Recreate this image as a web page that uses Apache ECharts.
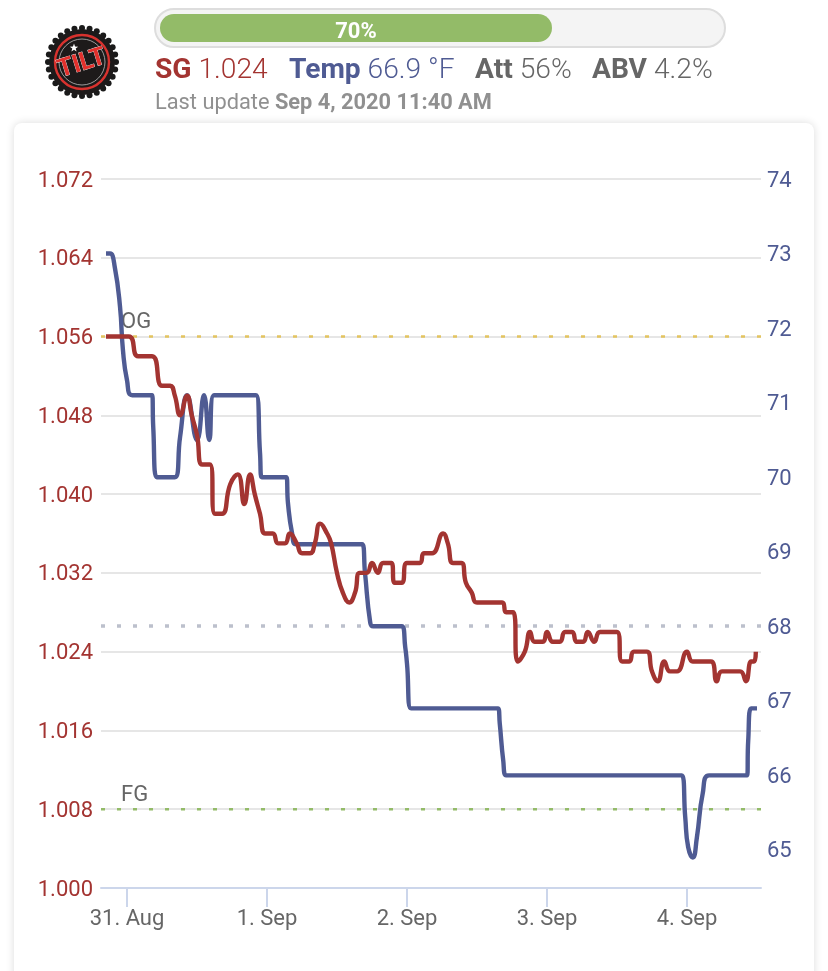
<!DOCTYPE html>
<html>
<head>
<meta charset="utf-8">
<script src="https://cdn.jsdelivr.net/npm/echarts@6/dist/echarts.min.js"></script>
<style>
html, body { margin: 0; padding: 0; background: #fff; font-family: Roboto, sans-serif; }
#page { position: relative; width: 828px; height: 971px; overflow: hidden; }
.bar { position: absolute; left: 154px; top: 8px; width: 568px; height: 36px; border: 2px solid #ddd; border-radius: 20px; background: #f4f4f4; }
.fill { position: absolute; left: 160px; top: 14px; width: 392px; height: 28px; border-radius: 14px; background: #93bb68; color: #fff; font-weight: bold; font-size: 22px; line-height: 33px; text-align: center; }
.stats { position: absolute; left: 155px; top: 53px; font-size: 28.2px; line-height: 32px; white-space: nowrap; font-weight: 300; }
.stats span { position: absolute; top: 0; }
.stats b { font-weight: 700; }
.sg { color: #a33431; }
.temp { color: #4f5b93; }
.other { color: #666; }
.update { position: absolute; left: 155px; top: 90px; font-size: 21.8px; line-height: 24px; color: #909090; white-space: nowrap; }
.card { position: absolute; left: 14px; top: 123px; width: 800px; height: 870px; background: #fff; border-radius: 8px; box-shadow: 0 0 8px rgba(0,0,0,0.14); }
#chart { position: absolute; left: 0; top: 0; width: 828px; height: 971px; }
</style>
</head>
<body>
<div id="page">
	<div class="card"></div>
	<div id="chart"></div>
	<div class="bar"></div>
	<div class="fill">70%</div>
	<div class="stats">
		<span class="sg" style="left:0"><b>SG</b> 1.024</span>
		<span class="temp" style="left:134px"><b>Temp</b> 66.9 °F</span>
		<span class="other" style="left:320px"><b>Att</b> 56%</span>
		<span class="other" style="left:437px"><b>ABV</b> 4.2%</span>
	</div>
	<div class="update">Last update <b>Sep 4, 2020 11:40 AM</b></div>
</div>
<script>
// hours since 31 Aug 00:00
var sgHours = [-3.6,0.3,1.9,4.3,6.0,7.4,8.2,9.1,10.3,11.1,12.0,12.9,14.2,15.1,16.3,17.7,19.0,20.1,21.1,21.9,22.8,23.7,25.0,25.9,27.1,27.9,29.1,30.0,31.4,32.2,33.1,34.3,35.0,36.0,37.0,38.1,39.1,39.9,41.1,42.0,43.0,43.9,45.3,45.9,47.1,48.0,50.2,50.9,52.3,54.2,55.0,55.9,57.3,58.1,59.1,60.0,64.3,65.0,66.2,67.0,68.2,69.1,69.9,71.3,72.0,73.0,74.2,75.1,76.3,77.1,78.2,79.0,80.1,81.1,84.0,84.9,86.1,86.9,89.1,90.0,91.0,92.1,93.1,94.3,96.0,97.0,100.1,101.1,102.0,105.1,106.1,107.0,107.5,107.8];
var sgValues = [1.056,1.056,1.054,1.054,1.051,1.051,1.050,1.048,1.050,1.048,1.046,1.043,1.043,1.038,1.038,1.041,1.042,1.039,1.042,1.040,1.038,1.036,1.036,1.035,1.035,1.036,1.035,1.034,1.034,1.035,1.037,1.036,1.035,1.032,1.030,1.029,1.030,1.032,1.032,1.033,1.032,1.033,1.033,1.031,1.031,1.033,1.033,1.034,1.034,1.036,1.035,1.033,1.033,1.031,1.030,1.029,1.029,1.028,1.028,1.023,1.024,1.026,1.025,1.025,1.026,1.025,1.025,1.026,1.026,1.025,1.025,1.026,1.025,1.026,1.026,1.023,1.023,1.024,1.024,1.022,1.021,1.023,1.022,1.022,1.024,1.023,1.023,1.021,1.022,1.022,1.021,1.023,1.023,1.024];
var tempHours = [-3.6,-2.9,-2.1,-1.2,-0.7,0,0.9,4.3,4.5,5.1,8.2,9.1,10.3,12.0,13.2,14.1,14.9,22.1,22.8,23.1,27.3,27.6,28.3,29.0,40.3,40.8,41.7,42.2,47.1,47.7,48,48.7,63.6,63.9,64.5,65.0,95.1,95.7,96.2,97.0,97.7,98.7,99.8,106.3,106.5,107.0,108.0];
var tempValues = [73,73,72.82,72.29,71.71,71.3,71.1,71.1,70.67,70,70,70.54,71.1,70.5,71.1,70.5,71.1,71.1,70.33,70,70,69.65,69.25,69.1,69.1,68.72,68.05,68,68,67.72,67.5,66.9,66.9,66.7,66.2,66,66,65.44,65.04,64.9,65.17,65.76,66,66,66.47,66.9,66.9];
var tempTicks = [65,66,67,68,69,70,71,72,73,74];
var dayHours = [0,24,48,72,96];
var dayLabels = ['31. Aug','1. Sep','2. Sep','3. Sep','4. Sep'];
var ogLevel = 1.056, fgLevel = 1.008, targetLevel = 1.0266;
var xMin = -4.457, xMax = 108.69;

function pairs(xs, ys){
	var out = [];
	for (var i = 0; i < xs.length; i++) {
		out.push([xs[i], ys[i]]);
	}
	return out;
}

// bottle cap logo
function logoGraphic(){
	var cx = 82, cy = 62, items = [], teeth = 28;
	for (var i = 0; i < teeth; i++) {
		var a = i / teeth * Math.PI * 2;
		items.push({
			type: 'circle',
			shape: {cx: cx + Math.cos(a) * 34, cy: cy + Math.sin(a) * 34, r: 3},
			style: {fill: '#1a1a1a'}
		});
	}
	items.push({type: 'circle', shape: {cx: cx, cy: cy, r: 33}, style: {fill: '#1d1a1a'}});
	items.push({type: 'circle', shape: {cx: cx, cy: cy, r: 27}, style: {fill: 'none', stroke: '#d8322e', lineWidth: 2.4}});
	items.push({type: 'circle', shape: {cx: cx, cy: cy, r: 23}, style: {fill: 'none', stroke: '#bbb', lineWidth: 0.8}});
	// little star above the lettering
	var star = [];
	for (var s = 0; s < 10; s++) {
		var b = s / 10 * Math.PI * 2 - Math.PI / 2, r = s % 2 ? 1.8 : 4.4;
		star.push([cx - 8 + Math.cos(b) * r, cy - 14 + Math.sin(b) * r]);
	}
	items.push({type: 'polygon', shape: {points: star}, style: {fill: '#fff'}});
	items.push({
		type: 'text', x: cx, y: cy + 2, rotation: 0.3,
		style: {text: 'TILT', fill: '#e3302c', stroke: '#fff', lineWidth: 0.6, font: 'bold 25px Roboto', align: 'center', verticalAlign: 'middle'}
	});
	return items;
}

// dotted level line drawn on the SG axis, with an optional label by its left end
function levelSeries(level, color, width, name){
	var first = {value: [xMin, level]};
	if (name) {
		first.label = {show: true, formatter: name, position: 'right', offset: [15, -14], color: '#666', fontFamily: 'Roboto', fontSize: 22};
	}
	return {
		type: 'line',
		data: [first, [xMax, level]],
		symbol: 'circle',
		symbolSize: 0,
		silent: true,
		lineStyle: {color: color, width: width, type: [4, 12]},
		z: 2
	};
}

var chart = echarts.init(document.getElementById('chart'));
chart.setOption({
	animation: false,
	graphic: {elements: logoGraphic()},
	grid: {left: 101, right: 67, top: 179, bottom: 83},
	xAxis: {
		type: 'value',
		min: xMin,
		max: xMax,
		splitLine: {show: false},
		axisLine: {onZero: false, lineStyle: {color: '#ccd6eb', width: 2}},
		axisTick: {customValues: dayHours, length: 19, lineStyle: {color: '#ccd6eb', width: 2}},
		axisLabel: {
			customValues: dayHours,
			margin: 20,
			color: '#666',
			fontFamily: 'Roboto',
			fontSize: 22,
			formatter: function(v){ return dayLabels[dayHours.indexOf(v)]; }
		}
	},
	yAxis: [{
		type: 'value',
		min: 1,
		max: 1.072,
		interval: 0.008,
		axisLine: {show: false},
		axisTick: {show: false},
		splitLine: {lineStyle: {color: '#e6e6e6', width: 2}},
		axisLabel: {
			margin: 8,
			color: '#a33431',
			fontFamily: 'Roboto',
			fontSize: 22,
			// padding on the rich token nudges the digits down onto the gridline
			rich: {n: {padding: [4, 0, 0, 0], color: '#a33431', fontFamily: 'Roboto', fontSize: 22}},
			formatter: function(v){ return '{n|' + v.toFixed(3) + '}'; }
		}
	}, {
		type: 'value',
		min: 64.49,
		max: 74,
		axisLine: {show: false},
		axisTick: {show: false},
		splitLine: {show: false},
		axisLabel: {
			customValues: tempTicks,
			margin: 6,
			color: '#4f5b93',
			fontFamily: 'Roboto',
			fontSize: 22,
			rich: {n: {padding: [4, 0, 0, 0], color: '#4f5b93', fontFamily: 'Roboto', fontSize: 22}},
			formatter: function(v){ return '{n|' + v + '}'; }
		}
	}],
	series: [
		levelSeries(ogLevel, '#e3c45f', 2.4, 'OG'),
		levelSeries(targetLevel, '#bcc0cc', 3.5, ''),
		levelSeries(fgLevel, '#93bb68', 2.4, 'FG'),
		{
			name: 'Temp',
			type: 'line',
			yAxisIndex: 1,
			data: pairs(tempHours, tempValues),
			showSymbol: false,
			smooth: 0.5,
			lineStyle: {color: '#4f5b93', width: 4.4},
			z: 3
		}, {
			name: 'SG',
			type: 'line',
			data: pairs(sgHours, sgValues),
			showSymbol: false,
			smooth: 0.5,
			lineStyle: {color: '#a33431', width: 4.4},
			z: 4
		}
	]
});
</script>
</body>
</html>
